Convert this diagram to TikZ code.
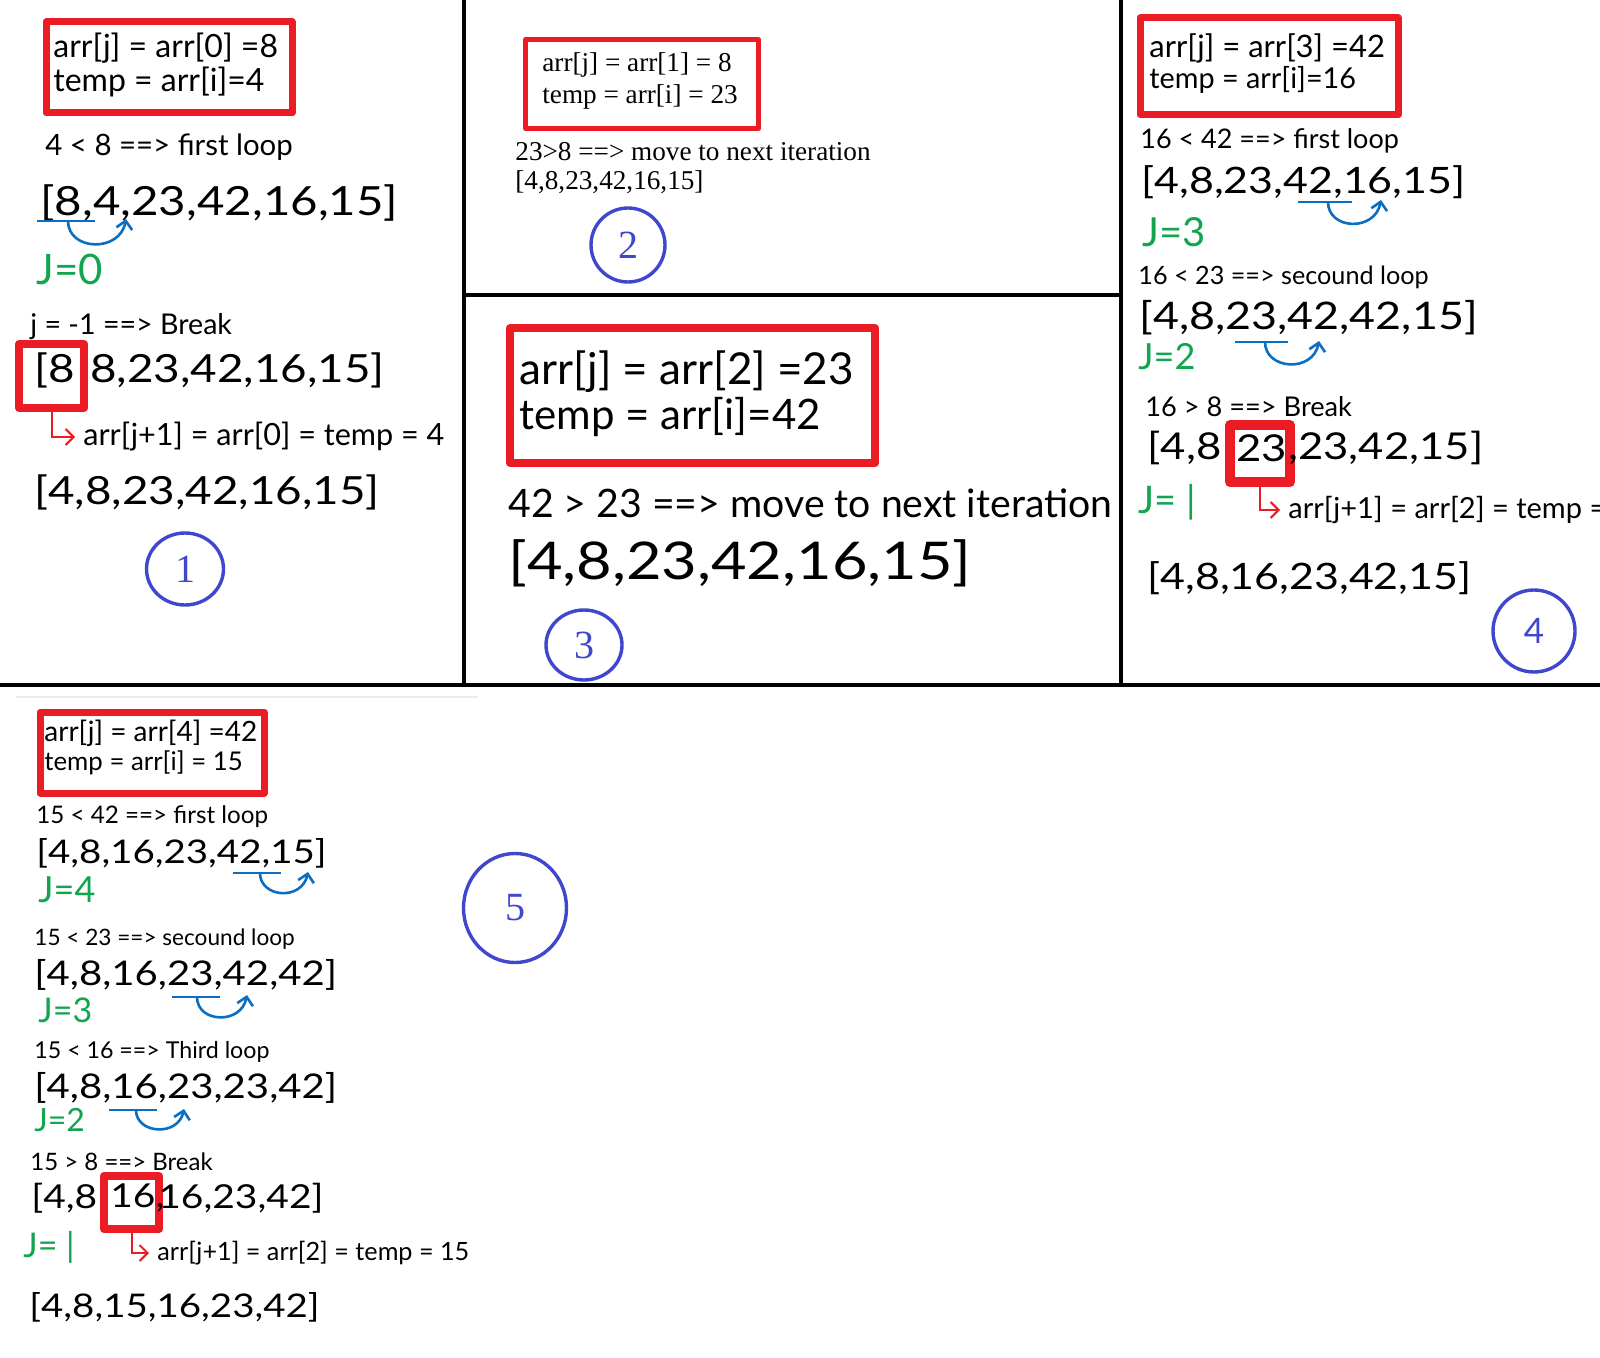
\documentclass[tikz,border=0pt]{standalone}
\usepackage{fontspec}
\setmainfont{Lato}
\newfontfamily\handwide{Lato}[FakeStretch=1.18]
\newfontfamily\timesfont{Liberation Serif}
\usetikzlibrary{arrows.meta,shapes.geometric}
\definecolor{markred}{HTML}{EC1C24}
\definecolor{ringblue}{HTML}{3F48CC}
\definecolor{swapblue}{HTML}{0A6FC2}
\definecolor{jgreen}{HTML}{12A550}
\newcommand{\fsz}[1]{\fontsize{#1pt}{#1pt}\selectfont}

\begin{document}
\begin{tikzpicture}[x=0.5pt,y=-0.5pt,
    txt/.style={anchor=west,inner sep=0pt},
    jlab/.style={txt,text=jgreen},
    notebox/.style={draw=markred,line join=round,line cap=round},
    brkbox/.style={draw=markred,line width=4pt,line join=round,inner sep=0pt},
    ring/.style={ellipse,draw=ringblue,line width=1.7pt,inner sep=0pt,text=ringblue},
    sep/.style={line width=2pt},
    swap/.style={swapblue,line width=1.3pt},
    swaptip/.style={swap,-{Straight Barb[length=4pt,width=8pt]}},
    redtip/.style={markred,line width=1pt,-{Straight Barb[length=4pt,width=8pt]}}]
    \useasboundingbox (0,0) rectangle (1600,1358);
    \fill[white] (0,0) rectangle (1600,1358);

    \draw[sep] (464,0) -- (464,685);
    \draw[sep] (1121,0) -- (1121,685);
    \draw[sep] (464,295) -- (1121,295);
    \draw[sep] (0,685) -- (1600,685);
    \draw[black!8,line width=1pt] (16,697) -- (478,697);

    % 1
    \draw[notebox,line width=3.5pt] (46,22) rectangle (292,113);
    \node[txt,font=\fsz{16}] (p1l1) at (53,48) {arr[j] = arr[0] =8};
    \node[txt,font=\fsz{16}] (p1l2) at (53,82) {temp = arr[i]=4};
    \node[txt,font=\fsz{14.7}] (p1c1) at (45,147) {4 < 8 ==> first loop};
    \node[txt,font=\handwide\fsz{20.1}] (p1a1) at (40,203) {[8,4,23,42,16,15]};
    \node[jlab,font=\fsz{21}] (p1j1) at (36,269) {J=0};
    \node[txt,font=\fsz{14.3}] (p1c2) at (30,327) {j = -1 ==> Break};
    \node[brkbox,minimum width=32.5pt,minimum height=32pt] (k1) at (51.5,376) {};
    \node[txt,font=\handwide\fsz{19.4}] (p1a2a) at (34,370) {[8};
    \node[txt,font=\handwide\fsz{19.4}] (p1a2b) at (90,370) {8,23,42,16,15]};
    \node[txt,font=\fsz{15.3}] (p1as) at (83,437) {arr[j+1] = arr[0] = temp = 4};
    \draw[redtip] (k1.south) |- ([xshift=-4pt]p1as.west);
    \node[txt,font=\handwide\fsz{19.4}] (p1a3) at (34,492) {[4,8,23,42,16,15]};
    \node[ring,minimum width=38.5pt,minimum height=36pt,font=\timesfont\fsz{20}] (r1) at (185,569) {1};

    % 2
    \draw[notebox,line width=2.5pt] (525.5,39.5) rectangle (758.5,128.5);
    \node[txt,font=\timesfont\fsz{13.6}] (p2l1) at (542,65) {arr[j] = arr[1] = 8};
    \node[txt,font=\timesfont\fsz{13.6}] (p2l2) at (542,97) {temp = arr[i] = 23};
    \node[txt,font=\timesfont\fsz{13.6}] (p2c1) at (515,152) {23>8 ==> move to next iteration};
    \node[txt,font=\timesfont\fsz{13.6}] (p2a1) at (515,182) {[4,8,23,42,16,15]};
    \node[ring,minimum width=37pt,minimum height=37pt,font=\timesfont\fsz{20}] (r2) at (628,245) {2};

    % 3
    \draw[notebox,line width=4pt] (510,328) rectangle (875,463);
    \node[txt,font=\fsz{22}] (p3l1) at (519,372) {arr[j] = arr[2] =23};
    \node[txt,font=\fsz{21}] (p3l2) at (519,417) {temp = arr[i]=42};
    \node[txt,font=\fsz{19.6}] (p3c1) at (508,503) {42 > 23 ==> move to next iteration};
    \node[txt,font=\handwide\fsz{26}] (p3a1) at (508,563) {[4,8,23,42,16,15]};
    \node[ring,minimum width=38pt,minimum height=35pt,font=\timesfont\fsz{20}] (r3) at (584,645) {3};

    % 4
    \draw[notebox,line width=3.5pt] (1140,18) rectangle (1398,115);
    \node[txt,font=\fsz{15.5}] (p4l1) at (1149,48) {arr[j] = arr[3] =42};
    \node[txt,font=\fsz{14.4}] (p4l2) at (1149,80) {temp = arr[i]=16};
    \node[txt,font=\fsz{13.5}] (p4c1) at (1140,141) {16 < 42 ==> first loop};
    \node[txt,font=\handwide\fsz{18.2}] (p4a1) at (1141,182) {[4,8,23,42,16,15]};
    \node[jlab,font=\fsz{20}] (p4j1) at (1142,232) {J=3};
    \node[txt,font=\fsz{12.6}] (p4c2) at (1138,277) {16 < 23 ==> secound loop};
    \node[txt,font=\handwide\fsz{19}] (p4a2) at (1139,318) {[4,8,23,42,42,15]};
    \node[jlab,font=\fsz{18}] (p4j2) at (1138,357) {J=2};
    \node[txt,font=\fsz{13.6}] (p4c3) at (1145,407) {16 > 8 ==> Break};
    \node[brkbox,line width=5pt,minimum width=30pt,minimum height=28.5pt] (k4) at (1260,453.5) {};
    \node[txt,font=\handwide\fsz{18.5}] (p4a3a) at (1147,448) {[4,8};
    \node[txt,font=\handwide\fsz{18.5}] (p4a3b) at (1236,448) {23};
    \node[txt,font=\handwide\fsz{18.5}] (p4a3c) at (1288,448) {,23,42,15]};
    \node[jlab,font=\fsz{19}] (p4j3) at (1138,502) {J= |};
    \node[txt,font=\fsz{14.5}] (p4as) at (1288,510) {arr[j+1] = arr[2] = temp =};
    \draw[redtip] (k4.south) |- ([xshift=-4pt]p4as.west);
    \node[txt,font=\handwide\fsz{18.2}] (p4a4) at (1147,578) {[4,8,16,23,42,15]};
    \node[ring,minimum width=41pt,minimum height=41pt,font=\fsz{17.5}] (r4) at (1534,631) {4};

    % 5
    \draw[notebox,line width=3.5pt] (40,712) rectangle (264,793);
    \node[txt,font=\fsz{14}] (p5l1) at (44,733) {arr[j] = arr[4] =42};
    \node[txt,font=\fsz{12.9}] (p5l2) at (44,763) {temp = arr[i] = 15};
    \node[txt,font=\fsz{12.1}] (p5c1) at (36,817) {15 < 42 ==> first loop};
    \node[txt,font=\handwide\fsz{16.3}] (p5a1) at (36,853) {[4,8,16,23,42,15]};
    \node[jlab,font=\fsz{18}] (p5j1) at (38,890) {J=4};
    \node[txt,font=\fsz{11.3}] (p5c2) at (34,939) {15 < 23 ==> secound loop};
    \node[txt,font=\handwide\fsz{17}] (p5a2) at (34,975) {[4,8,16,23,42,42]};
    \node[jlab,font=\fsz{17}] (p5j2) at (38,1010) {J=3};
    \node[txt,font=\fsz{11.6}] (p5c3) at (34,1052) {15 < 16 ==> Third loop};
    \node[txt,font=\handwide\fsz{17}] (p5a3) at (34,1088) {[4,8,16,23,23,42]};
    \node[jlab,font=\fsz{16}] (p5j3) at (34,1120) {J=2};
    \node[txt,font=\fsz{12}] (p5c4) at (30,1162) {15 > 8 ==> Break};
    \node[brkbox,minimum width=27.5pt,minimum height=26.5pt] (k5) at (131.5,1202.5) {};
    \node[txt,font=\handwide\fsz{16.5}] (p5a4a) at (31,1198) {[4,8};
    \node[txt,font=\handwide\fsz{16.5}] (p5a4b) at (110,1198) {16,};
    \node[txt,font=\handwide\fsz{16.5}] (p5a4c) at (158,1198) {16,23,42]};
    \node[jlab,font=\fsz{17}] (p5j4) at (23,1247) {J= |};
    \node[txt,font=\fsz{12.6}] (p5as) at (157,1253) {arr[j+1] = arr[2] = temp = 15};
    \draw[redtip] (k5.south) |- ([xshift=-4pt]p5as.west);
    \node[txt,font=\handwide\fsz{16.3}] (p5a5) at (29,1307) {[4,8,15,16,23,42]};
    \node[ring,minimum width=51.5pt,minimum height=54.5pt,font=\timesfont\fsz{20}] (r5) at (515,908) {5};

    \foreach \n/\xa/\xb/\yu/\xs/\xt/\yt/\d in {1/37/95/221/68/126/219/30,
            2/1298/1352/202/1328/1381/200/28, 3/1235/1288/342/1265/1319/341/28,
            4/233/281/873/260/308/872/25, 5/172/220/997/197/247/995/26,
            6/109/157/1110/136/184/1109/24} {
        \coordinate (ul\n) at (\xa,\yu);
        \coordinate (ur\n) at (\xb,\yu);
        \coordinate (us\n) at (\xs,\yu);
        \coordinate (ut\n) at (\xt,\yt);
        \draw[swap] (ul\n) -- (ur\n);
        \draw[swaptip] (us\n) .. controls +(0,\d) and +(-6,\d+4) .. (ut\n);
    }
\end{tikzpicture}
\end{document}
